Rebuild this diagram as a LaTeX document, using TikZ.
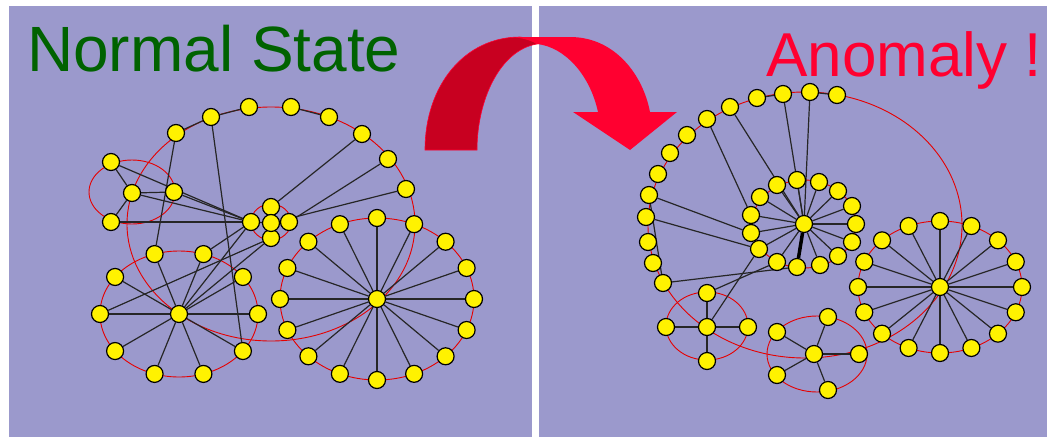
\documentclass[tikz,border=0pt]{standalone}
\usepackage{fontspec}
\setmainfont{Liberation Sans}
\pgfdeclarelayer{back}
\pgfdeclarelayer{edges}
\pgfsetlayers{back,edges,main}
\definecolor{panel}{RGB}{155,153,204}
\definecolor{ttlgreen}{RGB}{0,98,0}
\definecolor{ttlred}{RGB}{255,0,48}
\definecolor{arrdark}{RGB}{200,0,32}
\definecolor{ringred}{RGB}{230,0,0}
\begin{document}
\begin{tikzpicture}[x=1pt,y=-1pt,
  nd/.style={circle,fill=yellow,draw=black,line width=1.2pt,minimum size=17pt,inner sep=0pt},
  ring/.style={draw=ringred,line width=0.9pt},
  ed/.style={draw=black!85,line width=1.2pt},
  bold/.style={draw=black,line width=3.5pt},
  ttl/.style={anchor=base west,inner sep=0pt}]
\useasboundingbox (0,0) rectangle (1047,437);
\begin{pgfonlayer}{back}
\fill[white] (0,0) rectangle (1047,437);
\fill[panel] (9,6) rectangle (532,437);
\fill[panel] (539,6) rectangle (1047,437);
\end{pgfonlayer}

% titles
\node[ttl,text=ttlgreen,font=\fontsize{64}{64}\selectfont] (t1) at (27,71) {Normal State};
\node[ttl,text=ttlred,font=\fontsize{62}{62}\selectfont] (t2) at (766,76) {Anomaly !};

% ---------- left panel nodes ----------
\node[nd] (T1) at (176,133) {};
\node[nd] (T2) at (211,117) {};
\node[nd] (T3) at (249,107) {};
\node[nd] (T4) at (291,107) {};
\node[nd] (T5) at (329,117) {};
\node[nd] (T6) at (362,134) {};
\node[nd] (T7) at (388,159) {};
\node[nd] (T8) at (406,189) {};
\node[nd] (A1) at (111,162) {};
\node[nd] (A2) at (132,193) {};
\node[nd] (A3) at (111,222) {};
\node[nd] (A4) at (174,192) {};
\node[nd] (C1) at (271,207) {};
\node[nd] (C2) at (251,222) {};
\node[nd] (C3) at (289,222) {};
\node[nd] (C4) at (271,238) {};
\node[nd] (C0) at (271,223) {};
\node[nd] (LH) at (179,314) {};
\foreach \k in {0,...,9}{
  \pgfmathsetmacro\a{36*\k}
  \node[nd] (LW\k) at ({179+79*cos(\a)},{314-63*sin(\a)}) {};
}
\node[nd] (RH) at (377,299) {};
\foreach \k in {0,...,15}{
  \pgfmathsetmacro\a{22.5*\k}
  \node[nd] (RW\k) at ({377+97*cos(\a)},{299-81*sin(\a)}) {};
}

% ---------- right panel nodes ----------
\node[nd] (B1) at (837,95) {};
\node[nd] (B2) at (810,92) {};
\node[nd] (B3) at (783,94) {};
\node[nd] (B4) at (757,98) {};
\node[nd] (B5) at (730,107) {};
\node[nd] (B6) at (707,119) {};
\node[nd] (B7) at (687,135) {};
\node[nd] (B8) at (670,153) {};
\node[nd] (B9) at (658,174) {};
\node[nd] (B10) at (649,195) {};
\node[nd] (B11) at (646,217) {};
\node[nd] (B12) at (648,242) {};
\node[nd] (B13) at (653,263) {};
\node[nd] (B14) at (663,283) {};
\node[nd] (IH) at (804,224) {};
\foreach \n/\p in {1/{(797,180)},2/{(819,182)},3/{(838,191)},4/{(852,206)},5/{(856,224)},
  6/{(852,242)},7/{(838,256)},8/{(820,265)},9/{(797,267)},10/{(777,262)},11/{(759,249)},
  12/{(751,233)},13/{(751,215)},14/{(760,197)},15/{(777,185)}}{
  \node[nd] (I\n) at \p {};
}
\node[nd] (QH) at (940,287) {};
\foreach \k in {0,...,15}{
  \pgfmathsetmacro\a{22.5*\k}
  \node[nd] (QW\k) at ({940+82*cos(\a)},{287-66*sin(\a)}) {};
}
\node[nd] (XH) at (707,327) {};
\node[nd] (X1) at (707,293) {};
\node[nd] (X2) at (666,327) {};
\node[nd] (X3) at (748,327) {};
\node[nd] (X4) at (707,361) {};
\node[nd] (MH) at (814,354) {};
\node[nd] (M1) at (777,332) {};
\node[nd] (M2) at (828,317) {};
\node[nd] (M3) at (859,354) {};
\node[nd] (M4) at (777,375) {};
\node[nd] (M5) at (828,390) {};

\begin{pgfonlayer}{edges}
% rings left
\draw[ring] (271,224) ellipse [x radius=144pt, y radius=117pt];
\draw[ring] (132,192) ellipse [x radius=43pt, y radius=32pt];
\draw[ring] (179,314) ellipse [x radius=79pt, y radius=63pt];
\draw[ring] (377,299) ellipse [x radius=97pt, y radius=81pt];
\draw[ring] (271,222) ellipse [x radius=20pt, y radius=18pt];
% rings right
\draw[ring] (805,225) ellipse [x radius=157pt, y radius=133pt];
\draw[ring] (804,224) ellipse [x radius=52pt, y radius=44pt];
\draw[ring] (940,287) ellipse [x radius=82pt, y radius=66pt];
\draw[ring] (707,326) ellipse [x radius=41pt, y radius=34pt];
\draw[ring] (817,354) ellipse [x radius=50pt, y radius=38pt];

% edges left
\foreach \k in {0,...,9}{\draw[ed] (LH) -- (LW\k);}
\foreach \k in {0,...,15}{\draw[ed] (RH) -- (RW\k);}
\draw[ed] (T1) -- (T2);
\draw[ed] (T2) -- (T3);
\draw[ed] (T4) -- (T5);
\draw[ed] (T1) -- (LW3);
\draw[ed] (T2) -- (LW9);
\draw[ed] (T6) -- (C1);
\draw[ed] (T7) -- (C3);
\draw[ed] (T8) -- (C0);
\draw[ed] (A2) -- (A1);
\draw[ed] (A2) -- (A3);
\draw[ed] (A2) -- (A4);
\draw[ed] (A1) -- (C2);
\draw[ed] (A2) -- (C2);
\draw[ed] (A4) -- (C2);
\draw[ed] (A3) -- (C2);
\foreach \k in {1,...,4}{\draw[ed] (C0) -- (C\k);}
\draw[ed] (C2) -- (LW2);
\draw[ed] (C2) -- (LH);
\draw[ed] (C4) -- (LH);
\draw[ed] (C4) -- (LW5);

% edges right
\foreach \k in {1,...,15}{\draw[ed] (IH) -- (I\k);}
\draw[bold] (IH) -- (I9);
\foreach \k in {0,...,15}{\draw[ed] (QH) -- (QW\k);}
\draw[ed] (B1) -- (B2);
\draw[ed] (B3) -- (B4);
\draw[ed] (B2) -- (IH);
\draw[ed] (B3) -- (IH);
\draw[ed] (B5) -- (IH);
\draw[ed] (B6) -- (I13);
\draw[ed] (B10) -- (I12);
\draw[ed] (B11) -- (I11);
\draw[ed] (B10) -- (B14);
\draw[ed] (B14) -- (I9);
\foreach \k in {1,...,4}{\draw[ed] (XH) -- (X\k);}
\draw[ed] (XH) -- (I11);
\draw[ed] (X1) -- (I10);
\foreach \k in {1,...,5}{\draw[ed] (MH) -- (M\k);}

% arrow
\fill[arrdark,draw=ttlred,line width=0.6pt] (425,150) .. controls (425,85) and (465,37) .. (520,37)
  .. controls (528,38) and (533,40) .. (537,44)
  .. controls (500,50) and (477,100) .. (477,150) -- cycle;
\fill[ttlred] (512,37) -- (570,37) .. controls (615,37) and (643,75) .. (650,112)
  -- (677,112) -- (630,150) -- (573,112) -- (598,112)
  .. controls (590,75) and (565,47) .. (537,44)
  .. controls (530,40) and (522,38) .. (512,37) -- cycle;
\end{pgfonlayer}
\end{tikzpicture}
\end{document}
